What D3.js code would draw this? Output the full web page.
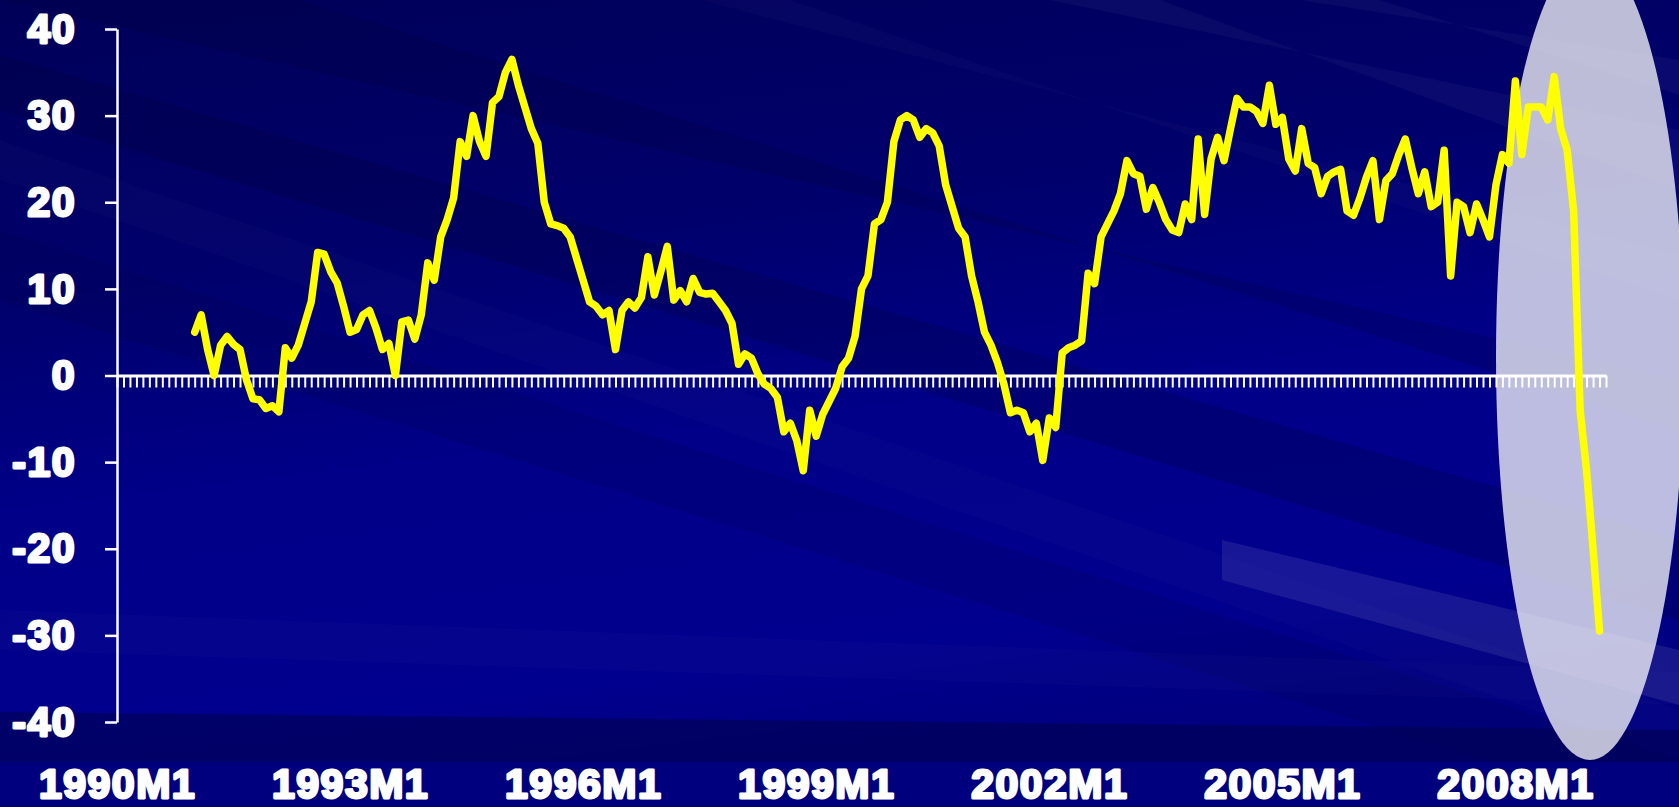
<!DOCTYPE html>
<html>
<head>
<meta charset="utf-8">
<script src="https://cdn.jsdelivr.net/npm/d3@7"></script>
<style>
  html, body { margin: 0; padding: 0; background: #000080; overflow: hidden; }
  svg { display: block; }
</style>
</head>
<body>
<svg id="chart" width="1679" height="807"></svg>
<script>
// ---------------- data ----------------
const firstYear = 1990, lastYear = 2009, lastMonth = 3;   // category axis 1990M1 .. 2009M3
const seriesStart = "1991M1";
const values = [
  5, 7, 3, 0, 3.5, 4.5, 3.6, 3, -0.5, -2.7, -2.8, -3.8,            // 1991
  -3.5, -4.2, 3.2, 2, 3.5, 6, 8.5, 14.2, 14, 12, 10.7, 8,          // 1992
  5, 5.3, 7, 7.5, 5.5, 3, 3.7, 0, 6.2, 6.4, 4.2, 7,                // 1993
  13, 11, 16, 18, 20.5, 27, 25.3, 30, 27, 25.3, 31.5, 32.2,        // 1994
  35, 36.5, 33.5, 31, 28.5, 26.8, 20, 17.5, 17.3, 17, 16, 13.5,    // 1995
  11, 8.5, 8, 7, 7.5, 3, 7.5, 8.5, 7.8, 9, 13.7, 9.3,              // 1996
  12, 14.9, 8.7, 9.8, 8.5, 11.2, 9.6, 9.4, 9.5, 8.5, 7.5, 6,       // 1997
  1.3, 2.5, 2, 0.2, -1, -1.5, -2.5, -6.5, -5.5, -7.5, -11, -4,     // 1998
  -7, -4.5, -3, -1.5, 1, 2, 4.5, 10, 11.5, 17.5, 18, 20,           // 1999
  27, 29.5, 30, 29.5, 27.5, 28.5, 28, 26.5, 22, 19.5, 17, 16,      // 2000
  11.5, 8.5, 5, 3.5, 1.5, -1, -4.3, -4, -4.3, -6.5, -5.5, -9.8,    // 2001
  -4.9, -6, 2.6, 3.2, 3.5, 4, 11.8, 10.6, 16, 17.5, 19, 21,        // 2002
  24.8, 23.3, 23, 19.2, 21.7, 20, 18, 16.8, 16.5, 19.8, 18, 27.3,  // 2003
  18.6, 25, 27.5, 24.8, 28.5, 32, 31, 31, 30.5, 29.1, 33.5, 29,    // 2004
  29.8, 25, 23.6, 28.5, 24.5, 24, 21, 23, 23.5, 23.8, 19, 18.5,    // 2005
  20.5, 22.9, 24.8, 18, 22.5, 23.3, 25.5, 27.3, 24, 21, 23.5, 19.5,// 2006
  20, 26, 11.5, 20, 19.5, 16.5, 19.8, 18, 16, 22, 25.5, 24.5,      // 2007
  34, 25.5, 31, 31, 31, 29.5, 34.5, 28.5, 26, 19, -4, -11,         // 2008
  -20, -29.5                                                        // 2009
];
const yTicks = [-40, -30, -20, -10, 0, 10, 20, 30, 40];
const xTickLabels = ["1990M1", "1993M1", "1996M1", "1999M1", "2002M1", "2005M1", "2008M1"];

// ---------------- build categories ----------------
const categories = [];
for (let yy = firstYear; yy <= lastYear; yy++) {
  for (let m = 1; m <= 12; m++) {
    if (yy === lastYear && m > lastMonth) break;
    categories.push(yy + "M" + m);
  }
}
const startIdx = categories.indexOf(seriesStart);
const series = values.map((v, i) => ({ cat: categories[startIdx + i], v }));

// ---------------- drawing ----------------
const W = 1679, H = 807;
const svg = d3.select("#chart");
const defs = svg.append("defs");

const g1 = defs.append("linearGradient").attr("id", "bg").attr("x1", 0).attr("y1", 0).attr("x2", 0.25).attr("y2", 1);
g1.append("stop").attr("offset", "0%").attr("stop-color", "#000058");
g1.append("stop").attr("offset", "35%").attr("stop-color", "#00006c");
g1.append("stop").attr("offset", "60%").attr("stop-color", "#000088");
g1.append("stop").attr("offset", "88%").attr("stop-color", "#00008e");
g1.append("stop").attr("offset", "100%").attr("stop-color", "#000080");

const bg = svg.append("g").attr("class", "background");
bg.append("rect").attr("width", W).attr("height", H).attr("fill", "url(#bg)");

const bands = [
  { pts: [[0, 55], [0, 110], [W, 620], [W, 540]], fill: "#000030", op: 0.22 },
  { pts: [[0, 140], [0, 180], [W, 760], [W, 710]], fill: "#ffffff", op: 0.015 },
  { pts: [[0, 230], [0, 300], [W, 820], [W, 760]], fill: "#000030", op: 0.12 },
  { pts: [[0, 0], [300, 0], [W, 430], [W, 380]], fill: "#000030", op: 0.18 },
  { pts: [[700, 0], [790, 0], [W, 300], [W, 255]], fill: "#ffffff", op: 0.02 },
  { pts: [[1050, 0], [1160, 0], [W, 190], [W, 130]], fill: "#ffffff", op: 0.035 },
  { pts: [[1300, 0], [1380, 0], [W, 95], [W, 60]], fill: "#ffffff", op: 0.035 },
  { pts: [[0, 610], [0, 650], [W, 705], [W, 672]], fill: "#ffffff", op: 0.015 },
  { pts: [[1222, 540], [1222, 580], [W, 705], [W, 650]], fill: "#ffffff", op: 0.09 },
  { pts: [[0, 712], [W, 730], [W, 765], [0, 762]], fill: "#00004a", op: 0.55 },
];
bg.selectAll("polygon").data(bands).join("polygon")
  .attr("points", d => d.pts.map(p => p.join(",")).join(" "))
  .attr("fill", d => d.fill).attr("opacity", d => d.op);
bg.append("rect").attr("x", 0).attr("y", 762).attr("width", W).attr("height", H - 762).attr("fill", "#00007e");

// scales
const x = d3.scalePoint().domain(categories).range([117, 1606]);
const y = d3.scaleLinear().domain([-40, 40]).range([722, 29]);

// highlight ellipse
svg.append("ellipse")
  .attr("cx", 1590).attr("cy", 357).attr("rx", 94).attr("ry", 403)
  .attr("fill", "#ffffff").attr("opacity", 0.74);

const fontFam = "'Liberation Sans', Arial, Helvetica, sans-serif";

// y axis
const yAxis = svg.append("g").attr("transform", `translate(${x(categories[0])},0)`)
  .call(d3.axisLeft(y).tickValues(yTicks).tickSize(12).tickSizeOuter(0).tickPadding(29).tickFormat(d3.format("d")));
yAxis.select(".domain").attr("stroke", "#fff").attr("stroke-width", 2.5);
yAxis.selectAll(".tick line").attr("stroke", "#fff").attr("stroke-width", 2.5);
yAxis.selectAll(".tick text")
  .attr("fill", "#fff").attr("stroke", "#fff").attr("stroke-width", 2.8).attr("stroke-linejoin", "round")
  .style("font-family", fontFam).style("font-weight", "bold").style("font-size", "41px")
  .style("letter-spacing", "1.5px")
  .text(d => d < 0 ? "-" + Math.abs(d) : d);

// zero-line category axis with monthly ticks
const xAxis = svg.append("g").attr("transform", `translate(0,${y(0)})`)
  .call(d3.axisBottom(x).tickSize(12).tickSizeOuter(0).tickFormat(""));
xAxis.select(".domain").attr("stroke", "#fff").attr("stroke-width", 3);
xAxis.selectAll(".tick line").attr("stroke", "#fff").attr("stroke-width", 2);

// bottom date labels
const xLab = svg.append("g").attr("transform", `translate(0,769)`)
  .call(d3.axisBottom(x).tickValues(xTickLabels).tickSize(0).tickPadding(0));
xLab.select(".domain").remove();
xLab.selectAll(".tick text")
  .attr("fill", "#fff").attr("stroke", "#fff").attr("stroke-width", 2.8).attr("stroke-linejoin", "round")
  .style("font-family", fontFam).style("font-weight", "bold").style("font-size", "41px")
  .style("letter-spacing", "1.5px");

// series line
const line = d3.line().x(d => x(d.cat)).y(d => y(d.v)).curve(d3.curveLinear);
svg.append("path").datum(series)
  .attr("d", line)
  .attr("fill", "none").attr("stroke", "#ffff00").attr("stroke-width", 7.5)
  .attr("stroke-linejoin", "round").attr("stroke-linecap", "round");
</script>
</body>
</html>
